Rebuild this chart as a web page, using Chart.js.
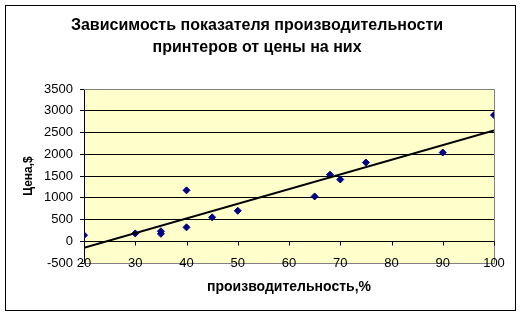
<!DOCTYPE html>
<html>
<head>
<meta charset="utf-8">
<script src="https://cdn.jsdelivr.net/npm/chart.js@4.4.1/dist/chart.umd.min.js"></script>
<style>
  body { margin: 0; background: #fff; }
  canvas { display: block; }
</style>
</head>
<body>
<canvas id="myChart" width="524" height="317"></canvas>
<script>
const chartTitle = ['Зависимость показателя производительности', 'принтеров от цены на них'];
const xTitle = 'производительность,%';
const yTitle = 'Цена,$';

// производительность, %
const productivity = [20, 30, 35, 35, 40, 40, 45, 50, 65, 68, 70, 75, 90, 100];
// цена, $
const price = [140, 180, 230, 170, 1170, 320, 550, 700, 1030, 1530, 1420, 1810, 2040, 2900];

const xMin = 20, xMax = 100, xStep = 10;
const yMin = -500, yMax = 3500, yStep = 500;

const font = '"Liberation Sans", Arial, sans-serif';

// линейный тренд (МНК)
function linearTrend(xs, ys) {
  const n = xs.length;
  let mx = 0, my = 0;
  for (let i = 0; i < n; i++) { mx += xs[i]; my += ys[i]; }
  mx /= n; my /= n;
  let sxy = 0, sxx = 0;
  for (let i = 0; i < n; i++) {
    sxy += (xs[i] - mx) * (ys[i] - my);
    sxx += (xs[i] - mx) * (xs[i] - mx);
  }
  const k = sxy / sxx;
  const b = my - k * mx;
  return [{ x: xMin, y: k * xMin + b }, { x: xMax, y: k * xMax + b }];
}

const points = productivity.map((x, i) => ({ x: x, y: price[i] }));

const frame = {
  id: 'frame',
  beforeDraw(chart) {
    const c = chart.ctx, a = chart.chartArea;
    c.save();
    c.fillStyle = '#fff';
    c.fillRect(0, 0, chart.width, chart.height);
    c.strokeStyle = '#000';
    c.lineWidth = 1;
    c.strokeRect(5.5, 5.5, 510, 305);
    c.fillStyle = '#FFFFCC';
    c.fillRect(a.left, a.top, a.right - a.left, a.bottom - a.top);
    c.restore();
  },
  beforeDatasetsDraw(chart) {
    const c = chart.ctx, a = chart.chartArea;
    const xs = chart.scales.x, ys = chart.scales.y;
    c.save();
    // рамка области построения
    c.strokeStyle = '#808080';
    c.lineWidth = 1;
    c.beginPath();
    c.moveTo(a.left, a.top + 0.5);
    c.lineTo(a.right + 0.5, a.top + 0.5);
    c.lineTo(a.right + 0.5, a.bottom + 0.5);
    c.lineTo(a.left, a.bottom + 0.5);
    c.stroke();
    // засечки оси X на уровне 0
    const y0 = Math.round(ys.getPixelForValue(0)) + 0.5;
    c.strokeStyle = '#000';
    c.beginPath();
    xs.ticks.forEach(t => {
      const px = Math.round(xs.getPixelForValue(t.value)) + 0.5;
      c.moveTo(px, y0);
      c.lineTo(px, y0 + 4);
    });
    c.stroke();
    // подписи оси X (как в Excel — на нижней границе)
    c.fillStyle = '#000';
    c.font = '13px ' + font;
    c.textAlign = 'center';
    c.textBaseline = 'middle';
    xs.ticks.forEach(t => {
      c.fillText(String(t.value), xs.getPixelForValue(t.value), a.bottom);
    });
    c.restore();
  }
};

const ctx = document.getElementById('myChart').getContext('2d');
const myChart = new Chart(ctx, {
  data: {
    datasets: [{
      type: 'scatter',
      data: points,
      pointStyle: 'rectRot',
      pointRadius: 3.5,
      pointHoverRadius: 3.5,
      backgroundColor: '#000080',
      borderColor: '#000080',
      borderWidth: 1,
      order: 2
    }, {
      type: 'line',
      data: linearTrend(productivity, price),
      borderColor: '#000',
      borderWidth: 2,
      pointRadius: 0,
      fill: false,
      order: 1
    }]
  },
  options: {
    responsive: false,
    animation: false,
    devicePixelRatio: 1,
    layout: { padding: { left: 20, right: 30, top: 6, bottom: 12 } },
    plugins: {
      legend: { display: false },
      tooltip: { enabled: false },
      title: {
        display: true,
        text: chartTitle,
        color: '#000',
        font: { family: font, size: 16, weight: 'bold', lineHeight: 22 / 16 },
        padding: { top: 9, bottom: 30 }
      }
    },
    scales: {
      x: {
        type: 'linear',
        min: xMin,
        max: xMax,
        border: { display: false },
        grid: { display: false, drawTicks: false },
        ticks: { stepSize: xStep, display: false },
        title: {
          display: true,
          text: xTitle,
          color: '#000',
          font: { family: font, size: 14, weight: 'bold' },
          padding: { top: 0, bottom: 9 }
        },
        afterFit(scale) { scale.height = 42; }
      },
      y: {
        type: 'linear',
        min: yMin,
        max: yMax,
        border: { display: true, color: '#000', width: 1 },
        grid: {
          color: c => (c.tick && (c.tick.value === yMin || c.tick.value === yMax)) ? 'rgba(0,0,0,0)' : '#000',
          tickColor: '#000',
          tickLength: 4,
          lineWidth: 1
        },
        ticks: {
          stepSize: yStep,
          color: '#000',
          padding: 7,
          font: { family: font, size: 13 },
          callback: v => String(v)
        },
        title: {
          display: true,
          text: yTitle,
          color: '#000',
          font: { family: font, size: 12, weight: 'bold' },
          padding: 1
        },
        afterFit(scale) { scale.width = 64; }
      }
    }
  },
  plugins: [frame]
});
</script>
</body>
</html>
